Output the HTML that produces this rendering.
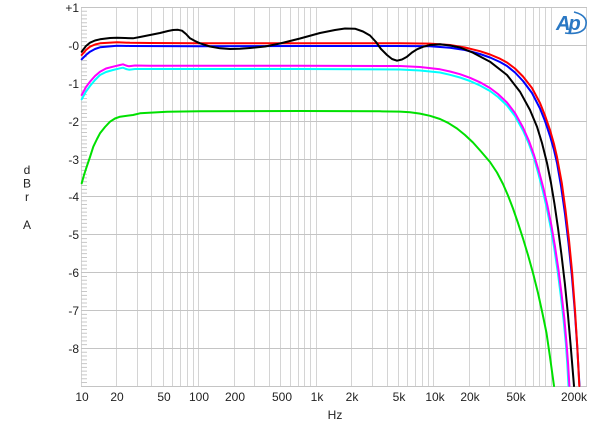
<!DOCTYPE html>
<html><head><meta charset="utf-8"><style>
html,body{margin:0;padding:0;background:#fff;}
svg{display:block;font-family:"Liberation Sans",Arial,sans-serif;}
</style></head><body>
<svg width="600" height="429" viewBox="0 0 600 429" xmlns="http://www.w3.org/2000/svg">
<rect width="600" height="429" fill="#fff"/>
<!-- vertical grid -->
<g stroke="#d4d4d4" stroke-width="1">
<line x1="81.5" y1="7.5" x2="81.5" y2="386.5"/><line x1="116.5" y1="7.5" x2="116.5" y2="386.5"/><line x1="137.5" y1="7.5" x2="137.5" y2="386.5"/><line x1="151.5" y1="7.5" x2="151.5" y2="386.5"/><line x1="163.5" y1="7.5" x2="163.5" y2="386.5"/><line x1="172.5" y1="7.5" x2="172.5" y2="386.5"/><line x1="180.5" y1="7.5" x2="180.5" y2="386.5"/><line x1="187.5" y1="7.5" x2="187.5" y2="386.5"/><line x1="193.5" y1="7.5" x2="193.5" y2="386.5"/>
<line x1="198.5" y1="7.5" x2="198.5" y2="386.5"/><line x1="234.5" y1="7.5" x2="234.5" y2="386.5"/><line x1="254.5" y1="7.5" x2="254.5" y2="386.5"/><line x1="269.5" y1="7.5" x2="269.5" y2="386.5"/><line x1="280.5" y1="7.5" x2="280.5" y2="386.5"/><line x1="290.5" y1="7.5" x2="290.5" y2="386.5"/><line x1="298.5" y1="7.5" x2="298.5" y2="386.5"/><line x1="304.5" y1="7.5" x2="304.5" y2="386.5"/><line x1="310.5" y1="7.5" x2="310.5" y2="386.5"/>
<line x1="316.5" y1="7.5" x2="316.5" y2="386.5"/><line x1="351.5" y1="7.5" x2="351.5" y2="386.5"/><line x1="372.5" y1="7.5" x2="372.5" y2="386.5"/><line x1="387.5" y1="7.5" x2="387.5" y2="386.5"/><line x1="398.5" y1="7.5" x2="398.5" y2="386.5"/><line x1="407.5" y1="7.5" x2="407.5" y2="386.5"/><line x1="415.5" y1="7.5" x2="415.5" y2="386.5"/><line x1="422.5" y1="7.5" x2="422.5" y2="386.5"/><line x1="428.5" y1="7.5" x2="428.5" y2="386.5"/>
<line x1="433.5" y1="7.5" x2="433.5" y2="386.5"/><line x1="469.5" y1="7.5" x2="469.5" y2="386.5"/><line x1="489.5" y1="7.5" x2="489.5" y2="386.5"/><line x1="504.5" y1="7.5" x2="504.5" y2="386.5"/><line x1="515.5" y1="7.5" x2="515.5" y2="386.5"/><line x1="525.5" y1="7.5" x2="525.5" y2="386.5"/><line x1="533.5" y1="7.5" x2="533.5" y2="386.5"/><line x1="539.5" y1="7.5" x2="539.5" y2="386.5"/><line x1="545.5" y1="7.5" x2="545.5" y2="386.5"/>
<line x1="551.5" y1="7.5" x2="551.5" y2="386.5"/><line x1="586.5" y1="7.5" x2="586.5" y2="386.5"/>
</g>
<!-- horizontal grid -->
<g stroke="#c4c4c4" stroke-width="1">
<line x1="81" y1="7.5" x2="587" y2="7.5"/><line x1="81" y1="45.5" x2="587" y2="45.5"/><line x1="81" y1="83.5" x2="587" y2="83.5"/><line x1="81" y1="121.5" x2="587" y2="121.5"/><line x1="81" y1="159.5" x2="587" y2="159.5"/><line x1="81" y1="196.5" x2="587" y2="196.5"/><line x1="81" y1="234.5" x2="587" y2="234.5"/><line x1="81" y1="272.5" x2="587" y2="272.5"/><line x1="81" y1="310.5" x2="587" y2="310.5"/><line x1="81" y1="348.5" x2="587" y2="348.5"/><line x1="81" y1="386.5" x2="587" y2="386.5"/>
</g>
<!-- minor ticks -->
<g id="tk" stroke="#c8c8c8" stroke-width="1">
<path d="M81 11.3h6M81 15.1h6M81 18.9h6M81 22.7h6M81 26.4h6M81 30.2h6M81 34h6M81 37.8h6M81 41.6h6"/>
</g>
<use href="#tk" y="37.88"/><use href="#tk" y="75.76"/><use href="#tk" y="113.64"/><use href="#tk" y="151.52"/><use href="#tk" y="189.4"/><use href="#tk" y="227.28"/><use href="#tk" y="265.16"/><use href="#tk" y="303.04"/><use href="#tk" y="340.92"/>
<!-- y labels -->
<g font-size="12" fill="#222" text-anchor="end">
<text x="79" y="12">+1</text><text x="79" y="50">-0</text><text x="79" y="88">-1</text><text x="79" y="126">-2</text><text x="79" y="164">-3</text><text x="79" y="201">-4</text><text x="79" y="239">-5</text><text x="79" y="277">-6</text><text x="79" y="315">-7</text><text x="79" y="353">-8</text>
</g>
<g font-size="12" fill="#222" text-anchor="middle">
<text x="27" y="174">d</text><text x="27" y="187.5">B</text><text x="27" y="201">r</text><text x="27" y="229">A</text>
<text x="82" y="401">10</text><text x="117" y="401">20</text><text x="164" y="401">50</text><text x="199" y="401">100</text><text x="235" y="401">200</text><text x="282" y="401">500</text><text x="317" y="401">1k</text><text x="352" y="401">2k</text><text x="399" y="401">5k</text><text x="435" y="401">10k</text><text x="470" y="401">20k</text><text x="516" y="401">50k</text><text x="574" y="401">200k</text>
<text x="335" y="419">Hz</text>
</g>
<!-- logo -->
<g>
<text x="556" y="30" font-size="20" font-style="italic" font-weight="bold" fill="#2a78c4" letter-spacing="-2">Ap</text>
<path d="M574 12 Q590 16 585 28 Q580 35 565 33" fill="none" stroke="#2a78c4" stroke-width="1.6"/>
</g>
<!-- curves -->
<g fill="none" stroke-width="2" stroke-linejoin="round" stroke-linecap="round">
<polyline stroke="#00e000" points="81.7,183.3 84,175 86.7,166.7 90,157 93.3,146.7 97,139 100,133.3 105,127 110,121.7 115,118.5 120,116.7 133,115 140,113.3 167,111.7 200,111.3 300,111 380,111.3 400,111.6 410,112.3 420,113.6 430,115.8 440,119 448,122.8 457,128.5 465,135 473,142.5 481,151.5 490,162 497,172.5 503,184 508,195.5 513,208.5 518,223 523,238.5 528,255 533,273 538,293 542.5,313.5 546.5,333 550,357 554,386"/>
<polyline stroke="#00ffff" points="81.7,99.3 86,91.5 90,86 95,80 100,75 106,72 113,70 120,68.3 123,67.7 126,69 129,69.7 135,69 150,69 300,69 400,69.5 420,70.5 440,72.5 450,74.8 460,77.5 470,81 480,85.5 490,91 498,97 507,105.5 515,116 523,130.5 529,144 534,158 538.5,174 543,191.5 547,209 550.8,228 554.3,248.5 557.7,271.5 560.7,295 563.5,319 565.8,343 567.3,364 568.5,386"/>
<polyline stroke="#ff00ff" points="81.7,95 86,87 90,81.7 95,76 100,71.7 106,68.5 113,66.7 120,65 123,64.3 126,65.5 129,66.3 135,65.5 150,65.7 300,65.7 400,66 420,67 440,69.3 450,71.5 460,74.2 470,77.8 480,82.3 490,88 498,94 507,102.5 515,113 523,127.5 529,141 534,155 539,171.5 543.5,188.5 547.5,206 551.5,226 555,246.5 558.5,270 561.5,293.5 564.3,318 566.5,343 568.1,364 569.4,386"/>
<polyline stroke="#0000ff" points="81.7,59.3 86,55 90,51.7 95,49 100,47.3 117,45.7 130,46 200,46.2 300,46 400,46 430,46.3 450,47.7 465,50 480,54 490,57.5 500,62 507,66 515,72.5 523,81 532,93 540,108.5 545,121 550,136 554,150 557,163 561,186 565,214 568.5,243 571.8,275 574.8,311 577.3,348 579.5,386"/>
<polyline stroke="#ff0000" points="81.7,55 86,50 90,46.7 95,44.5 100,43.3 117,42.3 130,42.8 150,43 200,43.2 300,43.2 400,43.3 430,43.6 450,45 465,47.5 480,51.2 490,54.5 500,58.7 507,62.5 515,68.5 523,76.5 532,88 540,103 545,115.5 550,130 554,144 557,157 561.8,183 565.5,210 569,240 572.2,273 575,310 577.3,347 579.3,386"/>
<polyline stroke="#000000" points="81.7,51.7 86,46 90,42.7 95,40.5 100,39.3 110,38 117,37.7 125,38 133,38.3 140,37 150,35 160,33 168,31 173,30 178,29.8 182,30.7 186,34 190,38.3 195,41 200,43.3 210,46.5 220,48.3 230,49 240,48.8 250,48 265,46.5 280,43.5 300,38.5 320,33 335,30 345,28.5 355,28.7 363,31.5 370,35.5 376,42 381,49 387,55 392,59 397,60.7 402,59.5 407,56.7 412,52.5 417,49.3 423,46.8 430,45 440,44.3 450,45.5 460,47.5 473,52.7 490,61.7 507,75 520,91.7 530,110 537,126.7 542,143 547,163 551,183 554.5,204 558,228 561.5,255 564.8,283 567.8,313 570.6,345 572.6,369 574,386"/>
</g>
</svg>
</body></html>
